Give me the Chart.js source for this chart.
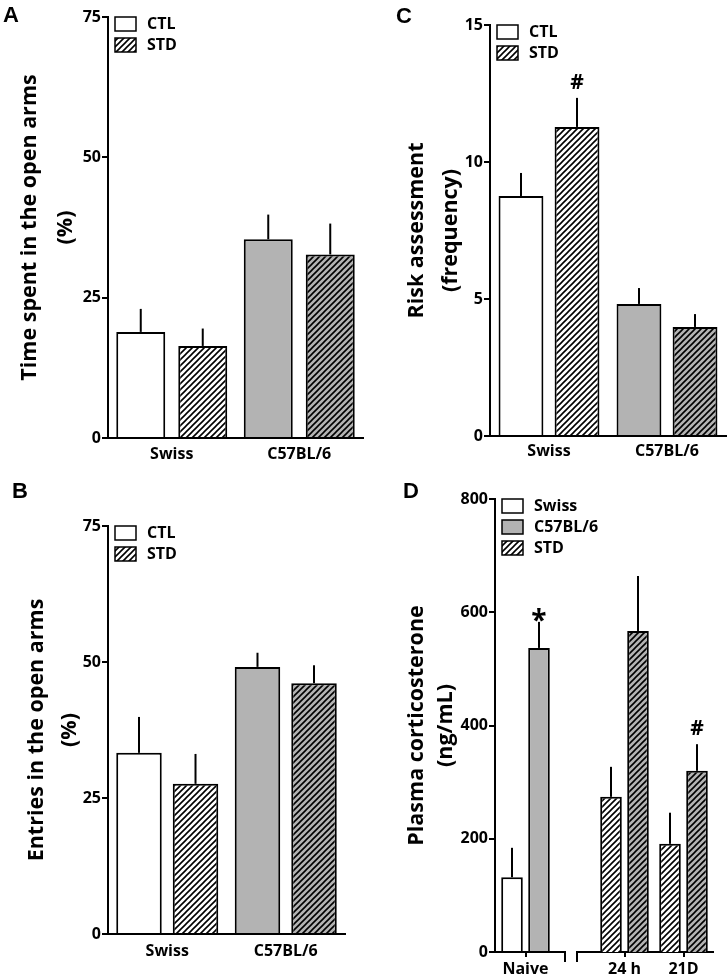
<!DOCTYPE html>
<html>
<head>
<meta charset="utf-8">
<script src="https://cdn.jsdelivr.net/npm/chart.js@4.4.1/dist/chart.umd.min.js"></script>
<style>
  body { margin: 0; background: #fff; width: 728px; height: 974px; position: relative; overflow: hidden; }
  .panel { position: absolute; }
  .tag { position: absolute; font: bold 22px 'Liberation Sans', Arial, sans-serif; line-height: 22px; color: #000; }
</style>
</head>
<body>
<div class="panel" style="left:0;top:0"><canvas id="chartA" width="364" height="480"></canvas></div>
<div class="panel" style="left:364px;top:0"><canvas id="chartC" width="364" height="480"></canvas></div>
<div class="panel" style="left:0;top:480px"><canvas id="chartB" width="364" height="494"></canvas></div>
<div class="panel" style="left:364px;top:480px"><canvas id="chartD1" width="364" height="494"></canvas></div>
<div class="panel" style="left:569px;top:480px"><canvas id="chartD2" width="159" height="494"></canvas></div>
<div class="tag" style="left:3px;top:4px">A</div>
<div class="tag" style="left:396px;top:5px">C</div>
<div class="tag" style="left:12px;top:480px">B</div>
<div class="tag" style="left:403px;top:480px">D</div>
<script>
'use strict'

// values (mean, and the SEM shown as the upper whisker)
const strains = ['Swiss', 'C57BL/6']

const timeCTL = [18.9, 35.4]
const timeCTLsem = [4.1, 4.4]
const timeSTD = [16.4, 32.7]
const timeSTDsem = [3.1, 5.5]

const entriesCTL = [33.3, 49.1]
const entriesCTLsem = [6.6, 2.6]
const entriesSTD = [27.6, 46.1]
const entriesSTDsem = [5.5, 3.3]

const riskCTL = [8.76, 4.82]
const riskCTLsem = [0.84, 0.58]
const riskSTD = [11.28, 3.98]
const riskSTDsem = [1.06, 0.47]
const riskSTDmarks = ['#', '']

const cortPhases = ['Naive', '24 h', '21D']
const cortSwiss = [132, 274, 191]
const cortSwissSem = [52, 53, 55]
const cortC57 = [537, 567, 320]
const cortC57Sem = [46, 97, 47]
const cortC57Marks = ['*', '', '#']

const FONT = "'Open Sans', sans-serif"
const GRAY = '#b3b3b3'

const hatch = (bg) => {
  const c = document.createElement('canvas')
  c.width = 6; c.height = 6
  const g = c.getContext('2d')
  g.fillStyle = bg
  g.fillRect(0, 0, 6, 6)
  g.strokeStyle = '#000'
  g.lineWidth = 1.6
  g.beginPath()
  for (let k = 0; k <= 12; k += 6) {
    g.moveTo(k - 8, 8)
    g.lineTo(k + 2, -2)
  }
  g.stroke()
  return g.createPattern(c, 'repeat')
}
const hatchWhite = hatch('#fff')
const hatchGray = hatch(GRAY)

// whiskers (upward only) plus the significance marks
const errorBars = {
  id: 'errorBars',
  afterDatasetsDraw(chart) {
    const ctx = chart.ctx
    const y = chart.scales.y
    ctx.save()
    ctx.strokeStyle = '#000'
    ctx.lineWidth = 2
    ctx.fillStyle = '#000'
    ctx.textAlign = 'center'
    ctx.textBaseline = 'alphabetic'
    chart.data.datasets.forEach((ds, i) => {
      chart.getDatasetMeta(i).data.forEach((bar, j) => {
        const top = y.getPixelForValue(ds.data[j] + ds.sem[j])
        ctx.beginPath()
        ctx.moveTo(bar.x, bar.y)
        ctx.lineTo(bar.x, top)
        ctx.stroke()
        const mark = ds.marks ? ds.marks[j] : ''
        if (mark === '#') {
          ctx.font = 'bold 21px ' + FONT
          ctx.fillText(mark, bar.x, top - 9)
        } else if (mark) {
          ctx.font = 'bold 28px ' + FONT
          ctx.fillText(mark, bar.x, top + 8)
        }
      })
    })
    ctx.restore()
  }
}

// small legend drawn inside the plot, top left
const boxLegend = {
  id: 'boxLegend',
  afterDraw(chart, args, opts) {
    if (!opts.items || !opts.items.length) return
    const {ctx, chartArea} = chart
    ctx.save()
    ctx.font = 'bold 16px ' + FONT
    ctx.textBaseline = 'middle'
    opts.items.forEach((it, k) => {
      const x = chartArea.left + 7
      const y = chartArea.top + k * 21
      ctx.fillStyle = it.fill
      ctx.fillRect(x, y, 21, 14)
      ctx.strokeStyle = '#000'
      ctx.lineWidth = 1.5
      ctx.strokeRect(x, y, 21, 14)
      ctx.fillStyle = '#000'
      ctx.fillText(it.text, x + 32, y + 7.5)
    })
    ctx.restore()
  }
}

// broken x axis in panel D
const axisBreak = {
  id: 'axisBreak',
  afterDraw(chart, args, opts) {
    if (!opts.left && !opts.right) return
    const {ctx, chartArea: a} = chart
    ctx.save()
    ctx.strokeStyle = '#000'
    ctx.lineWidth = 2
    ctx.beginPath()
    if (opts.right) {
      ctx.moveTo(a.right, a.bottom)
      ctx.lineTo(a.right + opts.right, a.bottom)
      ctx.lineTo(a.right + opts.right, a.bottom + 10)
    }
    if (opts.left) {
      ctx.moveTo(a.left, a.bottom)
      ctx.lineTo(a.left - opts.left, a.bottom)
      ctx.lineTo(a.left - opts.left, a.bottom + 10)
    }
    ctx.stroke()
    ctx.restore()
  }
}

const yAxis = (max, step, width, title, pad, lh) => ({
  min: 0,
  max: max,
  afterFit: (s) => { s.width = width },
  border: { display: true, color: '#000', width: 2 },
  grid: { display: true, drawOnChartArea: false, drawTicks: true, tickLength: 6, color: '#000', lineWidth: 2 },
  ticks: { stepSize: step, padding: 1, color: '#000', font: { family: FONT, size: 16, weight: 'bold' } },
  title: {
    display: true, text: title, color: '#000',
    padding: { top: pad, bottom: 0 },
    font: { family: FONT, size: 21.5, weight: 'bold', lineHeight: lh + 'px' }
  }
})

const xAxis = (height, pad, tickLen) => ({
  afterFit: (s) => { s.height = height },
  border: { display: true, color: '#000', width: 2 },
  grid: { display: tickLen > 0, drawOnChartArea: false, drawTicks: tickLen > 0, tickLength: tickLen, offset: false, color: '#000', lineWidth: 2 },
  ticks: { padding: pad, maxRotation: 0, autoSkip: false, color: '#000', font: { family: FONT, size: 16, weight: 'bold' } }
})

const bars = (label, data, sem, fill, marks) => ({
  label: label, data: data, sem: sem, marks: marks,
  backgroundColor: fill, borderColor: '#000', borderWidth: 2
})

const makeChart = (id, labels, datasets, o) => new Chart(document.getElementById(id), {
  type: 'bar',
  data: { labels: labels, datasets: datasets },
  options: {
    responsive: false,
    animation: false,
    layout: { padding: o.padding },
    datasets: { bar: { categoryPercentage: o.cat, barPercentage: o.bar } },
    plugins: {
      legend: { display: false },
      tooltip: { enabled: false },
      boxLegend: { items: o.legend || [] },
      axisBreak: o.axisBreak || {}
    },
    scales: { x: o.x, y: o.y }
  },
  plugins: [errorBars, boxLegend, axisBreak]
})

const ctlStdLegend = [{ text: 'CTL', fill: '#fff' }, { text: 'STD', fill: hatchWhite }]

makeChart('chartA', strains, [
  bars('CTL', timeCTL, timeCTLsem, ['#fff', GRAY]),
  bars('STD', timeSTD, timeSTDsem, [hatchWhite, hatchGray])
], {
  padding: { top: 17, right: 1, bottom: 0, left: 0 },
  cat: 0.9725, bar: 0.79,
  legend: ctlStdLegend,
  x: xAxis(42, 7, 0),
  y: yAxis(75, 25, 108, ['Time spent in the open arms', '(%)'], 11.5, 36)
})

makeChart('chartB', strains, [
  bars('CTL', entriesCTL, entriesCTLsem, ['#fff', GRAY]),
  bars('STD', entriesSTD, entriesSTDsem, [hatchWhite, hatchGray])
], {
  padding: { top: 46, right: 19, bottom: 0, left: 0 },
  cat: 0.954, bar: 0.805,
  legend: ctlStdLegend,
  x: xAxis(40, 8, 0),
  y: yAxis(75, 25, 108, ['Entries in the open arms', '(%)'], 20, 33)
})

makeChart('chartC', strains, [
  bars('CTL', riskCTL, riskCTLsem, ['#fff', GRAY]),
  bars('STD', riskSTD, riskSTDsem, [hatchWhite, hatchGray], riskSTDmarks)
], {
  padding: { top: 25, right: 2, bottom: 0, left: 0 },
  cat: 0.95, bar: 0.80,
  legend: ctlStdLegend,
  x: xAxis(44, 6, 0),
  y: yAxis(15, 5, 126, ['Risk assessment', '(frequency)'], 36, 34)
})

// panel D: Naive on the first axis segment, the stress time points on the second
makeChart('chartD1', cortPhases.slice(0, 1), [
  bars('Swiss', cortSwiss.slice(0, 1), cortSwissSem.slice(0, 1), '#fff'),
  bars('C57BL/6', cortC57.slice(0, 1), cortC57Sem.slice(0, 1), GRAY, cortC57Marks.slice(0, 1))
], {
  padding: { top: 19, right: 172, bottom: 0, left: 0 },
  cat: 0.885, bar: 0.8,
  legend: [{ text: 'Swiss', fill: '#fff' }, { text: 'C57BL/6', fill: GRAY }, { text: 'STD', fill: hatchWhite }],
  axisBreak: { right: 9 },
  x: xAxis(22, 3, 5),
  y: yAxis(800, 200, 131, ['Plasma corticosterone', '(ng/mL)'], 38, 29)
})

makeChart('chartD2', cortPhases.slice(1), [
  bars('Swiss STD', cortSwiss.slice(1), cortSwissSem.slice(1), hatchWhite),
  bars('C57BL/6 STD', cortC57.slice(1), cortC57Sem.slice(1), hatchGray, cortC57Marks.slice(1))
], {
  padding: { top: 19, right: 15, bottom: 0, left: 26 },
  cat: 0.915, bar: 0.8,
  axisBreak: { left: 18 },
  x: xAxis(22, 3, 5),
  y: { display: false, min: 0, max: 800 }
})
</script>
</body>
</html>
